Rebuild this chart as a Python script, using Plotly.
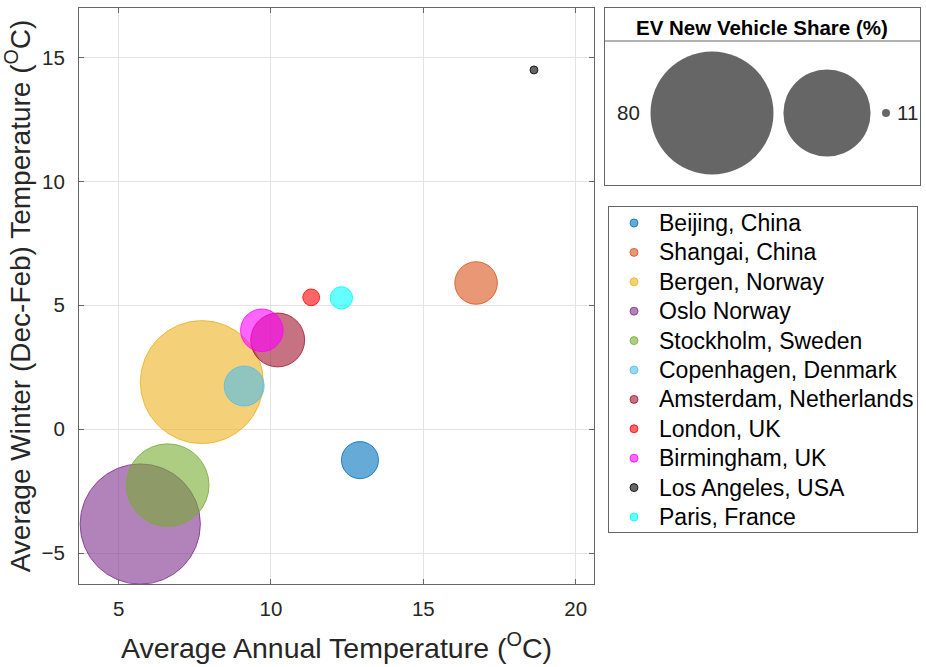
import plotly.graph_objects as go

# city data
cities = ["Beijing, China", "Shangai, China", "Bergen, Norway", "Oslo Norway",
          "Stockholm, Sweden", "Copenhagen, Denmark", "Amsterdam, Netherlands",
          "London, UK", "Birmingham, UK", "Los Angeles, USA", "Paris, France"]
avg_annual_temp = [12.92, 16.73, 7.73, 5.71, 6.61, 9.12, 10.22, 11.32, 9.70, 18.63, 12.31]
avg_winter_temp = [-1.25, 5.90, 1.90, -3.83, -2.26, 1.74, 3.60, 5.32, 3.99, 14.50, 5.30]
ev_share = [17, 19, 80, 77, 42, 18, 24, 12, 19, 11, 13]
colors = ["#0072BD", "#D95319", "#EDB120", "#7E2F8E", "#77AC30", "#4DBEEE",
          "#A2142F", "#FF0000", "#FF00FF", "#000000", "#00FFFF"]

x_ticks = [5, 10, 15, 20]
y_ticks = [-5, 0, 5, 10, 15]

FONT = "Liberation Sans, Arial, sans-serif"
TXT = "#262626"
BOX = "#666666"
D_MIN, D_MAX = 8, 123  # bubble diameter range in px
v_min, v_max = min(ev_share), max(ev_share)


def bubble_diam(v):
    # area scales linearly between the smallest and largest bubble
    frac = (v - v_min) / (v_max - v_min)
    return (D_MIN ** 2 + frac * (D_MAX ** 2 - D_MIN ** 2)) ** 0.5


def rgba(hex_color, a):
    h = hex_color.lstrip("#")
    r, g, b = int(h[0:2], 16), int(h[2:4], 16), int(h[4:6], 16)
    return f"rgba({r},{g},{b},{a})"


def box_axis(domain, rng, anchor):
    return dict(domain=domain, range=rng, anchor=anchor, fixedrange=True,
                showline=True, mirror=True, linecolor=BOX, linewidth=1,
                showgrid=False, zeroline=False, showticklabels=False, ticks="")


fig = go.Figure()

for i, city in enumerate(cities):
    fig.add_trace(go.Scatter(
        x=[avg_annual_temp[i]], y=[avg_winter_temp[i]], mode="markers",
        name=city, showlegend=False, hoverinfo="name",
        marker=dict(size=bubble_diam(ev_share[i]), color=rgba(colors[i], 0.6), opacity=1,
                    line=dict(color=rgba(colors[i], 0.8), width=1)),
    ))

# bubble size legend (top right box)
legend_vals = [v_max, (v_max + v_min) / 2, v_min]
fig.add_trace(go.Scatter(
    x=[107, 222, 281], y=[72, 72, 72], mode="markers", xaxis="x2", yaxis="y2",
    showlegend=False, hoverinfo="skip",
    marker=dict(size=[bubble_diam(v) for v in legend_vals], color=BOX,
                opacity=1, line=dict(width=0)),
))

# city legend (lower right box)
legend_rows = list(range(len(cities)))
fig.add_trace(go.Scatter(
    x=[25] * len(cities), y=legend_rows, mode="markers", xaxis="x3", yaxis="y3",
    showlegend=False, hoverinfo="skip",
    marker=dict(size=8, color=[rgba(c, 0.6) for c in colors], opacity=1,
                line=dict(color=[rgba(c, 0.8) for c in colors], width=1)),
))

axis_common = dict(
    showline=True, linecolor=BOX, linewidth=1, mirror="ticks",
    ticks="inside", ticklen=5, tickcolor=BOX,
    showgrid=True, gridcolor="#e3e3e3", gridwidth=1, zeroline=False,
    tickfont=dict(family=FONT, size=20.5, color=TXT),
)

annotations = [
    dict(text="<b>EV New Vehicle Share (%)</b>", xref="x2", yref="y2", x=157, y=157,
         showarrow=False, font=dict(family=FONT, size=20.5, color="black")),
    dict(text=str(v_max), xref="x2", yref="y2", x=23, y=72, showarrow=False,
         font=dict(family=FONT, size=20.5, color=TXT)),
    dict(text=str(v_min), xref="x2", yref="y2", x=302, y=72, showarrow=False,
         font=dict(family=FONT, size=20.5, color=TXT)),
]
for i, city in enumerate(cities):
    annotations.append(dict(
        text=city, xref="x3", yref="y3", x=48, y=legend_rows[i], xanchor="left",
        showarrow=False, font=dict(family=FONT, size=23, color="black"),
    ))

fig.update_layout(
    width=926, height=667,
    margin=dict(l=0, r=0, t=0, b=0),
    paper_bgcolor="white", plot_bgcolor="white",
    font=dict(family=FONT, color=TXT),
    showlegend=False,
    xaxis=dict(
        domain=[79 / 926, 594 / 926], range=[3.7, 20.6], tickvals=x_ticks,
        title=dict(text="Average Annual Temperature (<sup>O</sup>C)",
                   font=dict(family=FONT, size=28.5, color=TXT), standoff=19),
        ticklabelstandoff=6, **axis_common,
    ),
    yaxis=dict(
        domain=[1 - 584 / 667, 1 - 8 / 667], range=[-6.25, 17.0], tickvals=y_ticks,
        title=dict(text="Average Winter (Dec-Feb) Temperature (<sup>O</sup>C)",
                   font=dict(family=FONT, size=28, color=TXT), standoff=5),
        ticklabelstandoff=9, **axis_common,
    ),
    xaxis2=box_axis([605 / 926, 920 / 926], [0, 315], "y2"),
    yaxis2=box_axis([1 - 185 / 667, 1 - 8 / 667], [0, 177], "x2"),
    xaxis3=box_axis([609 / 926, 917 / 926], [0, 308], "y3"),
    yaxis3=box_axis([1 - 532 / 667, 1 - 207 / 667], [10.51, -0.544], "x3"),
    shapes=[dict(type="line", xref="x2", yref="y2", x0=0, x1=315, y0=144, y1=144,
                 line=dict(color=BOX, width=1))],
    annotations=annotations,
)

fig.write_html("out.html", config={"displayModeBar": False},
               post_script="document.body.style.margin='0px';")
